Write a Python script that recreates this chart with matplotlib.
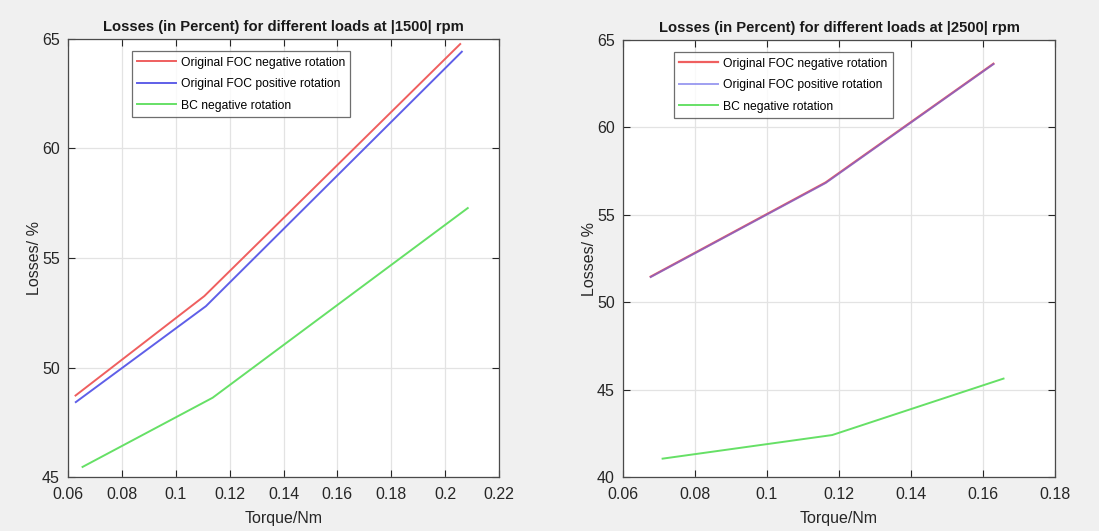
import matplotlib
matplotlib.use("Agg")
import matplotlib.pyplot as plt

plt.rcParams['font.family'] = ['Liberation Sans', 'DejaVu Sans']

# ---- data: 1500 rpm ----
t1500_neg = [0.0628, 0.1106, 0.2056]
foc_neg_1500 = [48.72, 53.26, 64.77]
t1500_pos = [0.0629, 0.1112, 0.2062]
foc_pos_1500 = [48.42, 52.80, 64.42]
t1500_bc = [0.0654, 0.1137, 0.2084]
bc_neg_1500 = [45.46, 48.62, 57.28]

# ---- data: 2500 rpm ----
t2500_neg = [0.0677, 0.1163, 0.1629]
foc_neg_2500 = [51.46, 56.85, 63.64]
t2500_pos = [0.0677, 0.1163, 0.1629]
foc_pos_2500 = [51.44, 56.82, 63.62]
t2500_bc = [0.0710, 0.1181, 0.1657]
bc_neg_2500 = [41.05, 42.40, 45.63]

labels = ["Original FOC negative rotation", "Original FOC positive rotation", "BC negative rotation"]
xticks_1500 = [0.06, 0.08, 0.1, 0.12, 0.14, 0.16, 0.18, 0.2, 0.22]
yticks_1500 = [45, 50, 55, 60, 65]
xticks_2500 = [0.06, 0.08, 0.1, 0.12, 0.14, 0.16, 0.18]
yticks_2500 = [40, 45, 50, 55, 60, 65]

RED = '#ef5f5f'
BLUE = '#5f5fe8'
GREEN = '#66e066'

fig = plt.figure(figsize=(10.99, 5.31), dpi=100, facecolor='#f0f0f0')
ax1 = fig.add_axes([68/1099, 1-477/531, 431/1099, 438/531])
ax2 = fig.add_axes([623/1099, 1-477/531, 432/1099, 437/531])

def style(ax, xt, yt, title, legloc):
    ax.set_facecolor('white')
    ax.set_xlim(xt[0], xt[-1])
    ax.set_ylim(yt[0], yt[-1])
    ax.set_xticks(xt)
    ax.set_yticks(yt)
    ax.set_xticklabels([f"{v:g}" for v in xt])
    ax.set_yticklabels([f"{v:g}" for v in yt])
    ax.grid(True, color='#e3e3e3', linewidth=0.9)
    ax.set_axisbelow(True)
    ax.tick_params(direction='in', top=True, right=True, labelsize=11.5,
                   colors='#262626', length=5, width=0.8)
    ax.tick_params(axis='x', pad=7)
    ax.tick_params(axis='y', pad=6)
    for s in ax.spines.values():
        s.set_color('#4a4a4a')
        s.set_linewidth(0.9)
    ax.set_title(title, fontsize=10.6, fontweight='bold', pad=6, color='#1a1a1a')
    ax.set_xlabel("Torque/Nm", fontsize=11.5, color='#262626', labelpad=7)
    ax.set_ylabel("Losses/ %", fontsize=11.5, color='#262626', labelpad=0)
    leg = ax.legend(loc='upper left', bbox_to_anchor=legloc, fontsize=8.7,
                    frameon=True, fancybox=False, edgecolor='#4a4a4a',
                    handlelength=3.2, borderpad=0.45, labelspacing=0.78,
                    handletextpad=0.4, borderaxespad=0)
    leg.get_frame().set_linewidth(0.9)

ax1.plot(t1500_neg, foc_neg_1500, color=RED, lw=1.4, label=labels[0])
ax1.plot(t1500_pos, foc_pos_1500, color=BLUE, lw=1.4, label=labels[1])
ax1.plot(t1500_bc, bc_neg_1500, color=GREEN, lw=1.4, label=labels[2])
style(ax1, xticks_1500, yticks_1500, "Losses (in Percent) for different loads at |1500| rpm", (0.148, 0.972))

ax2.plot(t2500_neg, foc_neg_2500, color=RED, lw=1.6, label=labels[0])
ax2.plot(t2500_pos, foc_pos_2500, color=BLUE, lw=1.4, alpha=0.6, label=labels[1])
ax2.plot(t2500_bc, bc_neg_2500, color=GREEN, lw=1.4, label=labels[2])
style(ax2, xticks_2500, yticks_2500, "Losses (in Percent) for different loads at |2500| rpm", (0.118, 0.972))

fig.savefig("out.png", dpi=100, facecolor=fig.get_facecolor())
